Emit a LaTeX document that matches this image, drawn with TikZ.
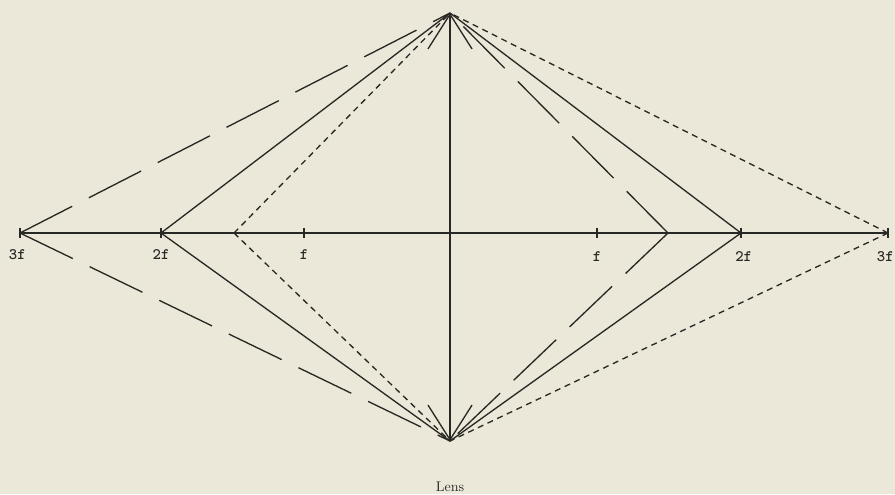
\documentclass[tikz,border=0pt]{standalone}
\usepackage{tikz}
\usetikzlibrary{arrows.meta, positioning}
\definecolor{paper}{RGB}{236,232,217}
\definecolor{ink}{RGB}{40,40,36}

\begin{document}
\begin{tikzpicture}[
        x=0.75pt, y=-0.75pt,
        ray/.style={draw=ink, line width=1pt},
        longdash/.style={ray, dash pattern=on 44pt off 14pt},
        shortdash/.style={ray, dash pattern=on 4.5pt off 3.5pt},
        axtick/.style={ray},
        lbl/.style={font=\ttfamily\bfseries\fontsize{12}{14}\selectfont, text=ink, inner sep=1pt},
        lensarr/.style={ray, {Straight Barb[length=26pt, width=33pt]}-{Straight Barb[length=26pt, width=33pt]}}
        ]
        \fill[paper] (0,0) rectangle (895,494);
        \useasboundingbox (0,0) rectangle (895,494);
        % lens and axis points
        \coordinate (top) at (450,13);
        \coordinate (bot) at (450,441);
        \coordinate (L3) at (20,233);
        \coordinate (L2) at (161,233);
        \coordinate (L15) at (234,233);
        \coordinate (F1) at (304,233);
        \coordinate (F2) at (597,233);
        \coordinate (R15) at (668,233);
        \coordinate (R2) at (741,233);
        \coordinate (R3) at (888,233);
        % labels
        \node[lbl, below=11pt of L3, xshift=-2pt] (t3l) {3f};
        \node[lbl, below=11pt of L2] (t2l) {2f};
        \node[lbl, below=11pt of F1] (t1l) {f};
        \node[lbl, below=13pt of F2] (t1r) {f};
        \node[lbl, below=13pt of R2, xshift=2pt] (t2r) {2f};
        \node[lbl, below=13pt of R3, xshift=-2pt] (t3r) {3f};
        \node[font=\rmfamily\fontsize{10.5}{12}\selectfont, text=ink, below=27pt of bot] (lens) {Lens};
        % axis and lens
        \draw[ray] (L3) -- (R3);
        \draw[lensarr] (bot) -- (top);
        \draw[axtick] ([yshift=4pt]L3) -- ([yshift=-4pt]L3);
        \draw[axtick] ([yshift=4pt]L2) -- ([yshift=-4pt]L2);
        \draw[axtick] ([yshift=4pt]F1) -- ([yshift=-4pt]F1);
        \draw[axtick] ([yshift=4pt]F2) -- ([yshift=-4pt]F2);
        \draw[axtick] ([yshift=4pt]R2) -- ([yshift=-4pt]R2);
        \draw[axtick] ([yshift=4pt]R3) -- ([yshift=-4pt]R3);
        % rays: object at 2f
        \draw[ray] (L2) -- (top);
        \draw[ray] (L2) -- (bot);
        \draw[ray] (R2) -- (top);
        \draw[ray] (R2) -- (bot);
        % rays: object at 3f, image at 1.5f
        \draw[longdash] (L3) -- (top);
        \draw[longdash] (L3) -- (bot);
        \draw[longdash] (R15) -- (top);
        \draw[longdash] (R15) -- (bot);
        % rays: object at 1.5f, image at 3f
        \draw[shortdash] (L15) -- (top);
        \draw[shortdash] (L15) -- (bot);
        \draw[shortdash] (R3) -- (top);
        \draw[shortdash] (R3) -- (bot);
    \end{tikzpicture}
\end{document}
